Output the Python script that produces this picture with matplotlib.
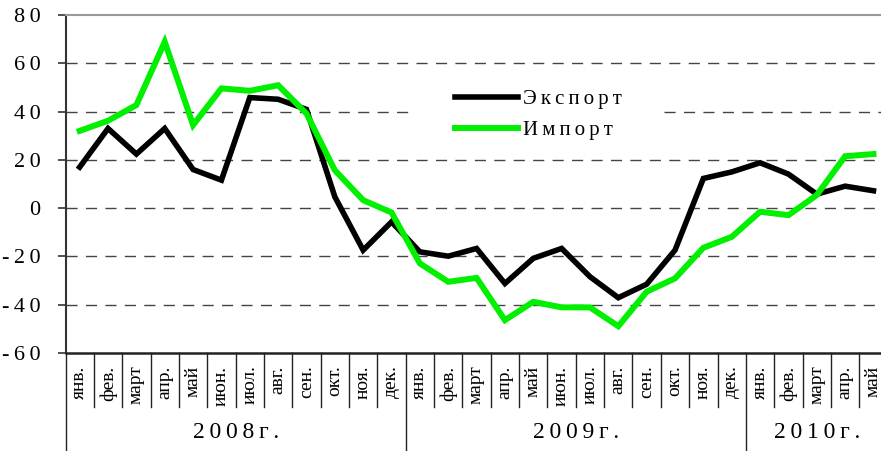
import matplotlib
matplotlib.use("Agg")
import matplotlib.pyplot as plt

plt.rcParams['font.family'] = ['Liberation Serif', 'DejaVu Serif']

months = ["янв.", "фев.", "март", "апр.", "май", "июн.", "июл.", "авг.",
          "сен.", "окт.", "ноя.", "дек."]
month_labels = months + months + months[:5]
years = ["2008г.", "2009г.", "2010г."]
year_len = [12, 12, 5]

export = [17, 33, 22.4, 33, 16, 11.6, 45.8, 45.1, 40.9, 4.7, -17.4, -5.7,
          -18.1, -19.9, -16.7, -31.2, -20.8, -16.7, -28.4, -37.1, -31.5, -17.4, 12.3, 15,
          18.8, 14.1, 5.8, 9.1, 7.2]
imports = [32, 36.2, 42.7, 68.9, 34.4, 49.6, 48.6, 50.9, 39.2, 15.7, 3.3, -1.8,
           -22.9, -30.5, -28.9, -46.4, -38.8, -41.1, -41.1, -48.9, -34.6, -29.1, -16.4, -11.9,
           -1.5, -2.9, 5.4, 21.5, 22.4]
yticks = [-60, -40, -20, 0, 20, 40, 60, 80]

W, H = 881, 451
fig = plt.figure(figsize=(W / 100, H / 100), dpi=100)
# axes: left edge 65.5px, 28.35px per month, top 15px, bottom 353px
ax_w = 29 * 28.35
ax = fig.add_axes([65.5 / W, (H - 353) / H, ax_w / W, 338 / H])

x = list(range(len(month_labels)))
ax.plot(x, export, color='black', lw=4, label="Э\u2009к\u2009с\u2009п\u2009о\u2009р\u2009т",
        zorder=3, solid_joinstyle='miter')
ax.plot(x, imports, color='#00f000', lw=4.3, label="И\u2009м\u2009п\u2009о\u2009р\u2009т",
        zorder=3, solid_joinstyle='miter')

ax.set_xlim(-0.5, len(x) - 0.5)
ax.set_ylim(-60, 80)

# dashed grid, the 40 line is broken where the legend sits
for v in yticks[1:-1]:
    if v == 40:
        ax.axhline(v, xmax=0.42, color='#444444', lw=1, dashes=(8, 6), zorder=1)
        ax.axhline(v, xmin=0.728, color='#444444', lw=1, dashes=(8, 6), zorder=1)
    else:
        ax.axhline(v, color='#444444', lw=1, dashes=(8, 6), zorder=1)

ax.set_yticks(yticks)
ax.set_yticklabels(["\u2009".join(str(v)) for v in yticks], fontsize=16)
ax.tick_params(axis='y', direction='out', length=6, width=1.2, pad=12, color='#333333')

ax.set_xticks(x)
ax.set_xticklabels(month_labels, rotation=90, va='top', ha='center', fontsize=14)
ax.tick_params(axis='x', length=0, pad=9)

ax.spines['right'].set_visible(False)
ax.spines['top'].set_color('#999999')
ax.spines['top'].set_linewidth(1.5)
ax.spines['left'].set_color('#333333')
ax.spines['left'].set_linewidth(1.5)
ax.spines['bottom'].set_color('#222222')
ax.spines['bottom'].set_linewidth(1.8)

# separators under the axis
tr = ax.get_xaxis_transform()
bounds = [0]
for n in year_len:
    bounds.append(bounds[-1] + n)
for k in range(1, len(x)):
    if k not in bounds:
        ax.plot([k - 0.5, k - 0.5], [0, -54 / 338], transform=tr, color='#222222',
                lw=1, clip_on=False)
for k in bounds[:-1]:
    ax.plot([k - 0.5, k - 0.5], [0, -100 / 338], transform=tr, color='#222222',
            lw=1, clip_on=False)
for i, yl in enumerate(years):
    cx = (bounds[i] + bounds[i + 1] - 1) / 2
    ax.text(cx, -80 / 338, "\u2009".join(yl), transform=tr, ha='center', va='center',
            fontsize=17)

leg = ax.legend(loc='center left', bbox_to_anchor=((455 - 65.5) / ax_w, (353 - 115) / 338),
                frameon=False, fontsize=15, handlelength=3.0, handletextpad=0.25,
                labelspacing=0.55, borderpad=0, borderaxespad=0)

fig.savefig("out.png", dpi=100)
